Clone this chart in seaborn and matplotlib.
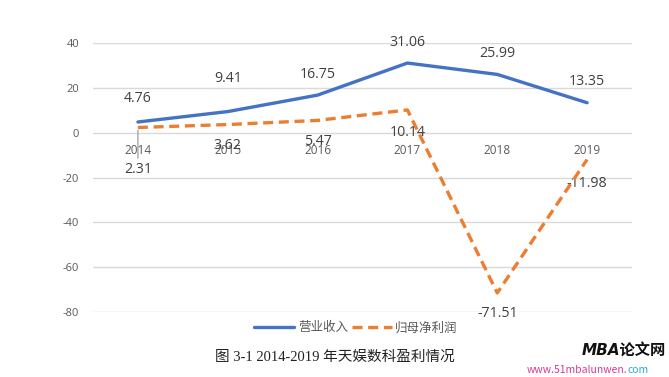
import matplotlib
matplotlib.use("Agg")
import matplotlib.pyplot as plt
import pandas as pd
import seaborn as sns

# ==========================
# data
# ==========================
years = ["2014", "2015", "2016", "2017", "2018", "2019"]
revenue = [4.76, 9.41, 16.75, 31.06, 25.99, 13.35]          # 营业收入
net_profit = [2.31, 3.62, 5.47, 10.14, -71.51, -11.98]       # 归母净利润
series_names = ["营业收入", "归母净利润"]
y_ticks = [-80, -60, -40, -20, 0, 20, 40]
caption = "图 3-1 2014-2019 年天娱数科盈利情况"

df = pd.DataFrame({"pos": range(len(years)), "year": years,
                   "revenue": revenue, "net_profit": net_profit})

# ==========================
# style
# ==========================
sns.set_style("white")
plt.rcParams["font.family"] = ["Noto Sans CJK SC", "DejaVu Sans"]

blue = "#4472C4"
orange = "#ED7D31"
label_col = "#404040"
tick_col = "#595959"
grid_col = "#D9D9D9"

fig = plt.figure(figsize=(6.69, 3.77), dpi=100)
ax = fig.add_axes([93 / 669, 65 / 377, 539 / 669, 269 / 377])

for y in y_ticks:
    ax.axhline(y, color=grid_col, lw=1.0, zorder=0)

sns.lineplot(data=df, x="pos", y="revenue", ax=ax, color=blue, lw=2.4,
             label=series_names[0], legend=False, zorder=3)
sns.lineplot(data=df, x="pos", y="net_profit", ax=ax, color=orange, lw=2.4,
             label=series_names[1], legend=False, zorder=3)
ax.lines[-1].set_linestyle((0, (3, 1.7)))

ax.set_xlim(-0.5, len(years) - 0.5)
ax.set_ylim(-80, 40)
ax.set_yticks(y_ticks)
ax.set_yticklabels([str(v) for v in y_ticks], color=tick_col, fontsize=8,
                   family=["Open Sans", "DejaVu Sans"])
ax.tick_params(axis="y", length=0, pad=10)
ax.set_xticks([])
ax.set_xlabel("")
ax.set_ylabel("")
for s in ax.spines.values():
    s.set_visible(False)

# category labels sit under the zero line (Excel style)
for i, yr in enumerate(years):
    ax.annotate(yr, (i, 0), xytext=(0, -13), textcoords="offset points",
                ha="center", va="center", fontsize=8.5, color=tick_col,
                family=["Open Sans", "DejaVu Sans"], zorder=2)

# data labels
rev_off = [17, 24, 15, 15, 15, 15]
for i, v in enumerate(revenue):
    ax.annotate(f"{v:.2f}", (i, v), xytext=(0, rev_off[i]), textcoords="offset points",
                ha="center", va="center", fontsize=10.2, color=label_col,
                family=["Open Sans", "DejaVu Sans"], zorder=4)
np_off = [-30, -15, -15, -16, -15, -17]
for i, v in enumerate(net_profit):
    ax.annotate(f"{v:.2f}", (i, v), xytext=(0, np_off[i]), textcoords="offset points",
                ha="center", va="center", fontsize=10.2, color=label_col,
                family=["Open Sans", "DejaVu Sans"], zorder=2, annotation_clip=False)
# leader line for the first profit label
ax.annotate("", (0, net_profit[0]), xytext=(0, -24), textcoords="offset points",
            arrowprops=dict(arrowstyle="-", color="#A6A6A6", lw=1), zorder=1)

handles, labels = ax.get_legend_handles_labels()
leg = fig.legend(handles, labels, loc="center", bbox_to_anchor=(356 / 669, 1 - 328 / 377),
                 ncol=2, frameon=False, fontsize=9, handlelength=3.2,
                 handletextpad=0.3, columnspacing=0.3, labelcolor=tick_col)

fig.text(0.5, 1 - 357 / 377, caption, ha="center", va="center", fontsize=10.5,
         color="#222222", family=["Liberation Serif", "Noto Sans CJK SC"])

# watermark
fig.text(0.995, 1 - 350 / 377, "MBA论文网", ha="right", va="center", fontsize=11,
         weight="bold", style="italic", color="#111111",
         family=["DejaVu Sans", "Noto Sans CJK SC"])
fig.text(0.938, 1 - 370 / 377, "www.51mbalunwen.", ha="right", va="center",
         fontsize=7.5, style="italic", color="#D63C8F")
fig.text(0.938, 1 - 370 / 377, "com", ha="left", va="center",
         fontsize=7.5, style="italic", color="#2FA7D6")

fig.savefig("out.png", dpi=100)
